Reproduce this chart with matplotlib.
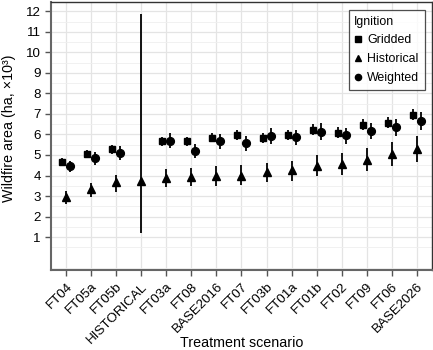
import numpy as np
import matplotlib.pyplot as plt
from matplotlib.lines import Line2D

plt.rcParams['font.family'] = ['Liberation Sans', 'DejaVu Sans']

scenarios = ["FT04", "FT05a", "FT05b", "HISTORICAL", "FT03a", "FT08", "BASE2016",
             "FT07", "FT03b", "FT01a", "FT01b", "FT02", "FT09", "FT06", "BASE2026"]

nan = np.nan
# Gridded ignition (mean, low, high)
grid_mean = [4.65, 5.06, 5.27, nan, 5.66, 5.66, 5.84, 5.97, 5.82, 5.98, 6.24, 6.09, 6.47, 6.58, 6.97]
grid_lo = [4.47, 4.86, 5.06, nan, 5.44, 5.44, 5.61, 5.73, 5.59, 5.74, 5.99, 5.84, 6.21, 6.32, 6.69]
grid_hi = [4.83, 5.26, 5.48, nan, 5.88, 5.88, 6.07, 6.21, 6.05, 6.22, 6.49, 6.34, 6.73, 6.84, 7.25]

# Historical ignition
hist_mean = [2.95, 3.32, 3.68, 3.74, 3.90, 3.93, 3.98, 4.00, 4.15, 4.25, 4.44, 4.54, 4.78, 5.06, 5.30]
hist_lo = [2.59, 2.95, 3.22, 1.18, 3.43, 3.47, 3.50, 3.52, 3.68, 3.72, 3.97, 4.05, 4.21, 4.44, 4.65]
hist_hi = [3.27, 3.63, 4.05, 11.87, 4.33, 4.37, 4.45, 4.49, 4.62, 4.73, 5.02, 5.09, 5.35, 5.62, 5.91]

# Weighted ignition
wt_mean = [4.44, 4.85, 5.09, nan, 5.70, 5.20, 5.66, 5.56, 5.93, 5.87, 6.13, 5.95, 6.18, 6.35, 6.66]
wt_lo = [4.16, 4.52, 4.77, nan, 5.33, 4.87, 5.30, 5.18, 5.54, 5.50, 5.74, 5.54, 5.77, 5.91, 6.23]
wt_hi = [4.73, 5.14, 5.43, nan, 6.08, 5.55, 6.03, 5.91, 6.32, 6.24, 6.55, 6.32, 6.57, 6.76, 7.08]

series = [
    ("Gridded", grid_mean, grid_lo, grid_hi, "s", 4.8, -0.16),
    ("Historical", hist_mean, hist_lo, hist_hi, "^", 6.0, 0.0),
    ("Weighted", wt_mean, wt_lo, wt_hi, "o", 5.6, 0.16),
]

fig = plt.figure(figsize=(4.33, 3.5), dpi=100)
ax = fig.add_axes([51 / 433, 80 / 350, 381 / 433, 268 / 350])

x = np.arange(len(scenarios))
handles = []
for name, mean, lo, hi, mk, ms, off in series:
    mean = np.array(mean)
    err = np.array([mean - np.array(lo), np.array(hi) - mean])
    ax.errorbar(x + off, mean, yerr=err, fmt=mk, color="black", ms=ms,
                elinewidth=1.3, capsize=0, zorder=3)
    # legend shows the marker only, no bar
    handles.append(Line2D([], [], ls="none", marker=mk, color="black",
                          ms=ms * 0.8, label=name))

ax.set_xlim(-0.6, len(scenarios) - 0.4)
ax.set_ylim(-0.6, 12.45)
ax.set_xticks(x)
ax.set_xticklabels(scenarios, rotation=45, ha="right", va="top",
                   rotation_mode="anchor", fontsize=9.6)
ax.set_yticks(range(1, 13))
ax.set_yticks(np.arange(-0.5, 12.5, 1.0), minor=True)
ax.tick_params(axis="y", labelsize=9.6)
ax.tick_params(which="major", direction="out", length=4, width=1, color="#555555")
ax.tick_params(which="minor", length=0)

ax.grid(True, which="major", color="#e4e4e4", lw=0.9, zorder=0)
ax.grid(True, which="minor", axis="y", color="#efefef", lw=0.6, zorder=0)
ax.set_axisbelow(True)

for side in ["left", "bottom"]:
    ax.spines[side].set_color("#666666")
    ax.spines[side].set_linewidth(1.5)
for side in ["top", "right"]:
    ax.spines[side].set_color("#333333")
    ax.spines[side].set_linewidth(1.0)

ax.set_xlabel("Treatment scenario", fontsize=10.3)
ax.xaxis.set_label_coords(0.5, -0.245)
ax.set_ylabel("Wildfire area (ha, ×10³)", fontsize=10.3)
ax.yaxis.set_label_coords(-0.093, 0.53)

leg = ax.legend(handles=handles, title="Ignition", loc="upper right", fontsize=8.9,
                title_fontsize=8.9, frameon=True, fancybox=False, edgecolor="#222222",
                handlelength=0.7, handletextpad=0.35, borderpad=0.45, labelspacing=0.55,
                borderaxespad=0, bbox_to_anchor=(0.981, 0.97))
leg.get_frame().set_linewidth(0.9)
leg._legend_box.align = "left"

fig.savefig("out.png", dpi=100)
